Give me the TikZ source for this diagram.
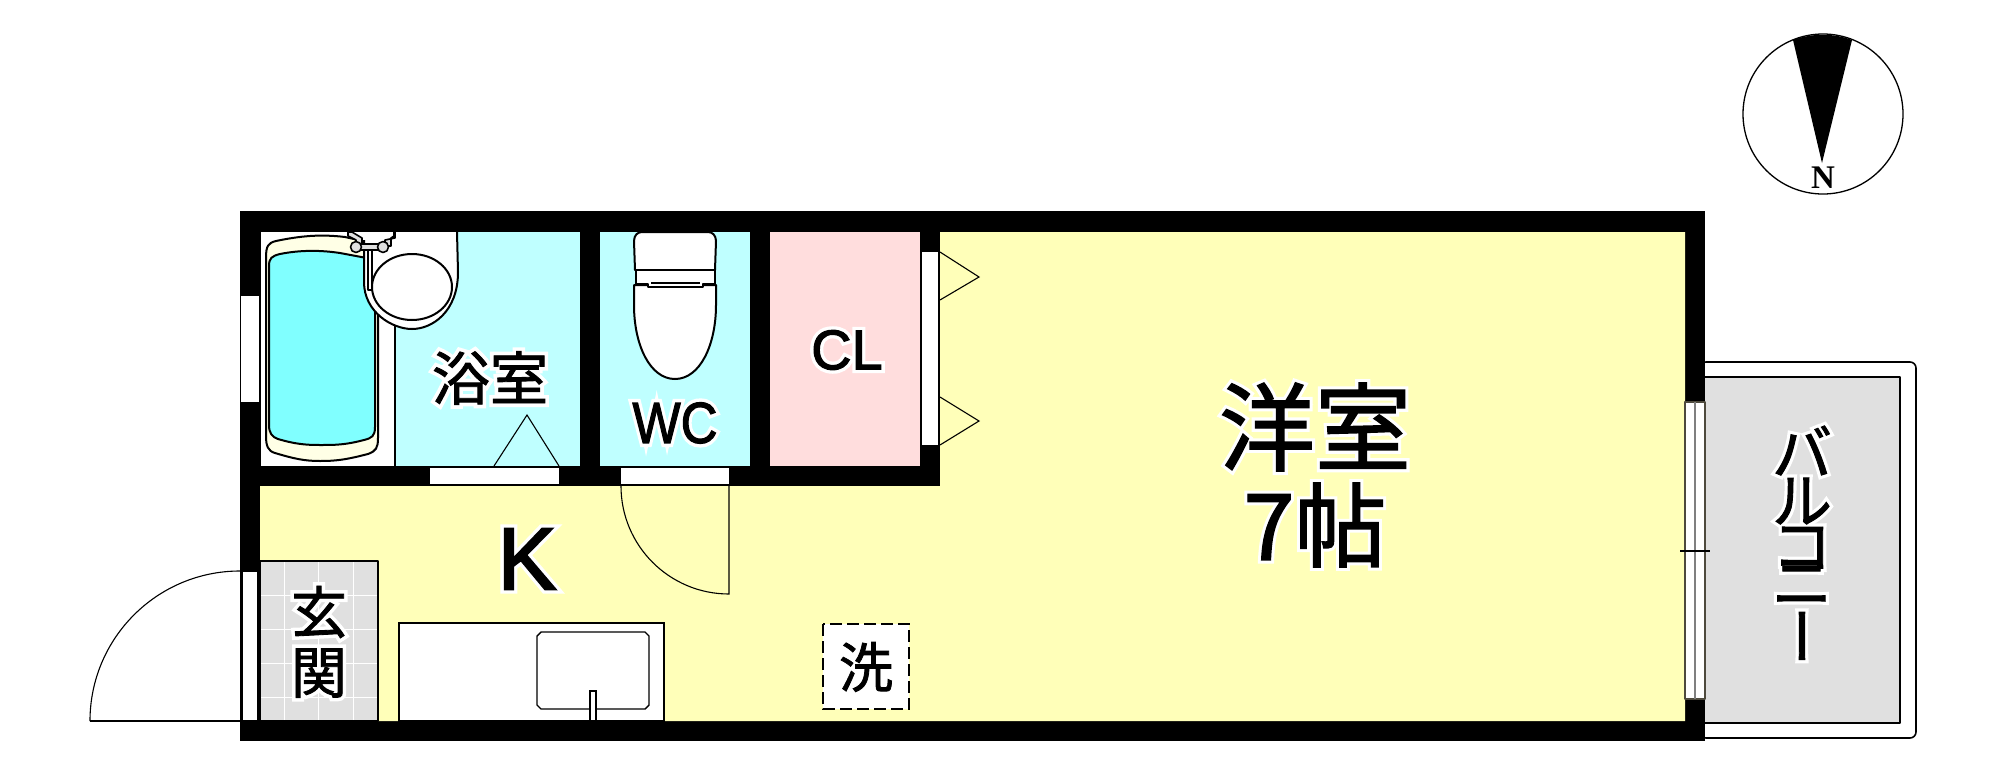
\documentclass[tikz,border=0pt]{standalone}
\usepackage{graphicx}
\usepackage{fontspec}
\setmainfont{Liberation Sans}
\newfontfamily\jpfont{Noto Sans CJK JP}
\newfontfamily\serfont{Liberation Serif}
\usetikzlibrary{calc}
\definecolor{roomyellow}{HTML}{FFFFB9}
\definecolor{wetblue}{HTML}{BFFFFF}
\definecolor{clpink}{HTML}{FFDDDD}
\definecolor{tubblue}{HTML}{80FFFF}
\definecolor{tubrim}{HTML}{FFFFE6}
\definecolor{floorgrey}{HTML}{E0E0E0}
% #1 halo strength (percent of em), #2 text weight, #3 text
\newcommand{\halo}[3]{\leavevmode\rlap{\addfontfeatures{FakeBold=#1}\textcolor{white}{#3}}{\addfontfeatures{FakeBold=#2}#3}}
\newcommand{\balcstack}{\hbox to 1em{\vrule width 0pt height 60pt depth 60pt
  \rlap{\raise 32.6pt\hbox{バ}}%
  \rlap{\raise 8.6pt\hbox{ル}}%
  \rlap{\raise -13.9pt\hbox{コ}}%
  \rlap{\raise -32.4pt\hbox{ニ}}%
  \rlap{\kern 13.5pt\raise -54.4pt\hbox{\rotatebox[origin=c]{90}{ー}}}\hfil}}
\tikzset{
  px/.style={x=0.5pt,y=-0.5pt},
  ln/.style={draw=black,line width=0.8pt,line join=round},
  thin line/.style={draw=black,line width=0.55pt},
  fixt/.style={draw=black,fill=white,line width=0.8pt},
  lbl/.style={inner sep=0pt,outer sep=0pt,anchor=center,text=black},
  gridl/.style={draw=white,line width=0.5pt},
}
\begin{document}
\begin{tikzpicture}[px]
\useasboundingbox (0,0) rectangle (1999,766);
\fill[white] (0,0) rectangle (1999,766);
% balcony
\filldraw[fill=white,ln,rounded corners=3pt] (1700,362) -- (1916,362) -- (1916,738) -- (1700,738) -- cycle;
\filldraw[fill=floorgrey,ln] (1700,377) rectangle (1900,723);
% walls
\fill[black] (240,211) rectangle (1705,741);
% rooms
\fill[roomyellow] (940,232) -- (1685,232) -- (1685,721) -- (260,721) -- (260,486) -- (940,486) -- cycle;
\fill[wetblue] (261,232) rectangle (580,466);
\fill[white] (261,232) rectangle (395,466);
\draw[ln] (395,320) -- (395,466);
\fill[wetblue] (600,232) rectangle (750,466);
\fill[clpink] (770,232) rectangle (920,466);
% tub
\filldraw[fill=tubrim,ln,line width=1pt] (266,258) .. controls (266,246) and (268,243) .. (276,241) .. controls (300,236) and (320,234) .. (345,237) -- (372,243) -- (378,300) -- (378,438) .. controls (378,448) and (376,451) .. (368,454) .. controls (345,460) and (335,461) .. (320,461) .. controls (305,461) and (295,459) .. (275,453) .. controls (268,451) and (266,446) .. (266,436) -- cycle;
\filldraw[fill=tubblue,ln,line width=1pt] (269,266) .. controls (269,258) and (272,256) .. (280,254) .. controls (300,250) and (320,250) .. (340,253) -- (372,259) -- (375,300) -- (375,427) .. controls (375,436) and (372,438) .. (364,440) .. controls (345,445) and (335,445) .. (320,445) .. controls (305,445) and (295,444) .. (278,439) .. controls (272,437) and (269,433) .. (269,425) -- cycle;
% basin
\filldraw[fill=white,ln,line width=1pt] (364,240) -- (364,282) .. controls (364,312) and (392,329) .. (412,329) .. controls (432,329) and (458,312) .. (458,272) -- (457,232) -- (364,232) -- cycle;
\fill[white] (362,232) rectangle (456,240);
\filldraw[fill=white,ln,line width=1pt] (412,287) ellipse [x radius=40,y radius=33];
\filldraw[fill=white,ln,line width=0.7pt] (368,248) rectangle (372,290);
\filldraw[fill=floorgrey,ln] (348,232) -- (348,236) -- (356,240) -- (356,246) -- (362,246) -- (362,238) -- (352,232) -- cycle;
\filldraw[fill=floorgrey,ln] (395,232) -- (395,238) -- (385,240) -- (385,246) -- (391,246) -- (391,238) -- (394,236) -- (394,232) -- cycle;
\filldraw[fill=floorgrey,ln] (358,244) rectangle (382,250);
\filldraw[fill=floorgrey,ln] (356,247) circle [radius=5.5];
\filldraw[fill=floorgrey,ln] (383,247) circle [radius=5.5];
% bath window and door
\filldraw[fixt,line width=0.5pt] (240,295) rectangle (259,402);
\fill[white] (430,468) rectangle (559,484);
\draw[thin line] (494,466) -- (527,415) -- (559,466);
% toilet
\filldraw[fill=white,ln,line width=1pt] (634,241) .. controls (634,235) and (638,232) .. (642,232) -- (708,232) .. controls (712,232) and (716,235) .. (716,241) -- (715,270) -- (635,270) -- cycle;
\filldraw[fill=white,ln,line width=1pt] (634,285) -- (634,305) .. controls (634,345) and (650,379) .. (675,379) .. controls (700,379) and (716,345) .. (716,305) -- (716,285) -- cycle;
\filldraw[fill=white,ln,line width=1pt] (636,270) -- (715,270) -- (715,284) -- (703,284) -- (703,287) -- (648,287) -- (648,284) -- (636,284) -- cycle;
\draw[ln,line width=1pt] (651,283) -- (700,283);
% wc door
\fill[white] (621,468) rectangle (729,484);
\draw[thin line] (621,486) arc[start angle=180,end angle=90,radius=108] -- (729,486);
% closet
\fill[white] (922,252) rectangle (938,445);
\draw[thin line] (940,252) -- (979,277) -- (940,300);
\draw[thin line] (940,397) -- (979,421) -- (940,445);
% entrance
\draw[thin line] (90,721) arc[start angle=180,end angle=270,radius=150];
\draw[thin line] (90,721) -- (242,721);
\filldraw[fixt,line width=0.6pt] (242,571) rectangle (258,721);
\filldraw[fill=floorgrey,ln] (260,561) rectangle (378,721);
\foreach \gx in {284,318,353} \draw[gridl] (\gx,562) -- (\gx,720);
\foreach \gy in {595,629,663,697} \draw[gridl] (261,\gy) -- (377,\gy);
% kitchen
\filldraw[fixt] (399,623) rectangle (664,721);
\filldraw[fixt,line width=0.7pt] (541,632) -- (645,632) -- (649,636) -- (649,705) -- (645,709) -- (541,709) -- (537,705) -- (537,636) -- cycle;
\filldraw[fixt,line width=0.6pt] (590,691) rectangle (596,721);
% washer
\filldraw[fill=white,draw=black,line width=0.8pt,dash pattern=on 6pt off 2.5pt] (823,624) rectangle (909,709);
% big window
\fill[white] (1685,402) rectangle (1705,699);
\draw[ln,draw=black!80!yellow] (1685,402) rectangle (1705,699);
\draw[draw=black!50,line width=0.7pt] (1695,402) -- (1695,699);
\draw[thin line] (1680,551) -- (1710,551);
% compass
\draw[ln,line width=0.65pt] (1823,114) circle [radius=80];
\fill[black] (1793,40) .. controls (1812,33) and (1834,33) .. (1852,40) -- (1822,163) -- cycle;
\node[lbl] (north) at (1823,178) {\fontsize{16.5pt}{16.5pt}\serfont\bfseries N};
% labels
\node[lbl] (bath) at (490,378) {\fontsize{29pt}{29pt}\jpfont\halo{14}{1.5}{浴室}};
\node[lbl,xscale=0.88] (wc) at (675,423) {\fontsize{29pt}{29pt}\selectfont\halo{14}{2}{WC}};
\node[lbl] (cl) at (847,350) {\fontsize{28pt}{28pt}\selectfont\halo{14}{2}{CL}};
\node[lbl] (k) at (527,559) {\fontsize{44pt}{44pt}\selectfont\halo{10}{2.5}{K}};
\node[lbl] (gen) at (319,612) {\fontsize{28pt}{28pt}\jpfont\halo{14}{1.5}{玄}};
\node[lbl] (kan) at (319,673) {\fontsize{28pt}{28pt}\jpfont\halo{14}{1.5}{関}};
\node[lbl] (wash) at (866,667) {\fontsize{27pt}{27pt}\jpfont\addfontfeatures{FakeBold=1.5}洗};
\node[lbl] (room) at (1315,427) {\fontsize{48pt}{48pt}\jpfont\halo{8}{1.5}{洋室}};
\node[lbl] (size) at (1315,525) {\fontsize{46pt}{46pt}\jpfont\halo{8}{1.5}{7帖}};
\node[lbl] (balc) at (1802,543) {\fontsize{30pt}{30pt}\jpfont\halo{12}{1.5}{\balcstack}};
\end{tikzpicture}
\end{document}
